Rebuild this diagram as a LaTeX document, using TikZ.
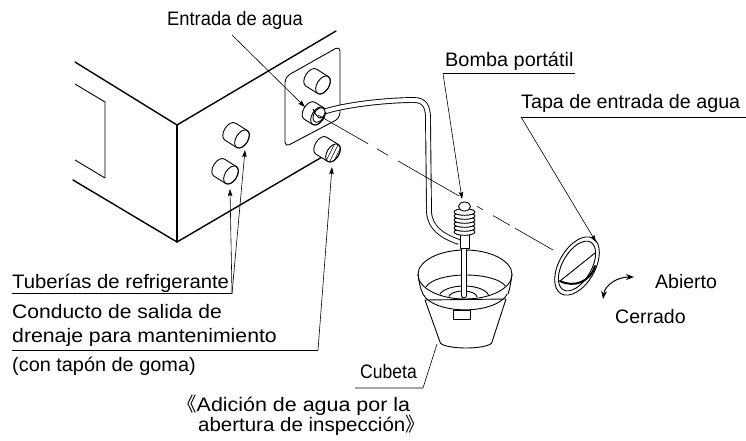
\documentclass[tikz,border=0pt]{standalone}
\usepackage{graphicx}
\usepackage{fontspec}
\setmainfont{Liberation Sans}
\newfontfamily\cjkfont{Noto Sans CJK JP}
\usetikzlibrary{arrows.meta,calc}
% horizontally fitted label text
\newcommand{\wtxt}[2]{\scalebox{#1}[1]{#2}}
\begin{document}
\begin{tikzpicture}[x=1pt,y=-1pt,
  edge/.style={line width=1.4pt, line cap=round, line join=round},
  part/.style={line width=0.9pt, line join=round},
  leader/.style={line width=0.6pt},
  ptr/.style={leader, -{Stealth[length=7pt,width=4.5pt,inset=1pt]}},
  lbl/.style={font=\fontsize{19.5}{23}\selectfont, inner sep=0pt, anchor=base west},
  pics/stub/.style n args={3}{code={
    \path[part, draw, fill=white] (-#1,-#3) -- (0,-#3)
      arc[start angle=-90, end angle=90, x radius=#2, y radius=#3]
      -- (-#1,#3) arc[start angle=90, end angle=270, x radius=#2, y radius=#3] -- cycle;
    \draw[part] (0,0) ellipse[x radius=#2, y radius=#3];
  }},
]
\useasboundingbox (0,0) rectangle (746,440);

% ---------------- unit casing ----------------
\draw[edge] (75,62) -- (177,125) -- (336,31);
\draw[edge] (177,125) -- (177,242);
\draw[edge] (73,180) -- (177,242) -- (322,157);
% panel on the side face
\draw[part] (75,84) -- (105,102) -- (105,178) -- (75,160);
% inspection plate around the inlet
\draw[part, rounded corners=5pt, fill=white] (285,77) -- (340,46) -- (340,118) -- (285,147) -- cycle;

% pipe stubs
\pic[rotate=-32] at (242,139) {stub={14}{6}{10}};
\pic[rotate=-32] at (231,175) {stub={14}{6}{10}};
\pic[rotate=-32] at (323,85) {stub={14}{6}{10}};
\pic[rotate=-32] at (333,153) {stub={14}{6}{10}};
% rubber plug hatching
\begin{scope}
  \clip[rotate around={-32:(333,153)}] (333,153) ellipse[x radius=6, y radius=10];
  \foreach \k in {-9,-5,...,11}
    \draw[line width=0.5pt] (325+\k,165) -- (337+\k,141);
\end{scope}
% water inlet nozzle
\pic[rotate=-32] at (318,116) {stub={10}{6}{10}};

% ---------------- hose ----------------
\draw[line width=0.9pt, double=white, double distance=4pt]
  (320,113) .. controls (345,104) and (390,100) .. (414,100)
  .. controls (424,100) and (428,106) .. (428,118)
  -- (429,212) .. controls (430,228) and (442,236) .. (459,242);
\draw[part, fill=white, rotate around={-32:(319,115)}] (319,115) ellipse[x radius=5, y radius=8];
\draw[part] (313,109) .. controls (318,120) and (322,121) .. (326,112);

% ---------------- bucket ----------------
\coordinate (bk) at (465,274.5);
\draw[part, fill=white] (425,300) -- (440,342) arc[start angle=180, end angle=0, x radius=26, y radius=6] -- (506,299) -- cycle;
\draw[part] (418,274) .. controls (419,282) and (420,288) .. (423,294);
\draw[part] (512,274) .. controls (511,282) and (510,288) .. (508,294);
\draw[part] (423,294) arc[start angle=168, end angle=12, x radius=43, y radius=20];
\draw[part, fill=white] (453,310.5) rectangle (470,319.5);
\draw[part] (bk) ellipse[x radius=47, y radius=24.5];
\begin{scope}
  \clip (bk) ellipse[x radius=46, y radius=23.5];
  \draw[part] (425,290) arc[start angle=180, end angle=360, x radius=41, y radius=15];
  \draw[part] (439,297) arc[start angle=180, end angle=360, x radius=25, y radius=11];
  \draw[part] (449,297) arc[start angle=180, end angle=360, x radius=14, y radius=6];
\end{scope}

% ---------------- pump ----------------
\draw[part, fill=white] (461.5,248) -- (461.5,295.5) arc[start angle=180, end angle=0, radius=2.5] -- (466.5,248);
\draw[part, fill=white] (460,234) rectangle (469,248);
\foreach \yy in {232,228,...,212}
  \draw[part, fill=white] (464.5,\yy) ellipse[x radius=10.5, y radius=3.3];
\draw[part, fill=white] (464.5,206.5) ellipse[x radius=6, y radius=4.5];

% ---------------- centre line towards the cap ----------------
\coordinate (cl1) at (318,115);
\coordinate (cl2) at (553,250);
\draw[leader] (cl1) -- ($(cl1)!0.213!(cl2)$);
\draw[leader] ($(cl1)!0.251!(cl2)$) -- ($(cl1)!0.298!(cl2)$);
\draw[leader] ($(cl1)!0.340!(cl2)$) -- ($(cl1)!0.600!(cl2)$);
\draw[leader] ($(cl1)!0.677!(cl2)$) -- ($(cl1)!0.702!(cl2)$);
\draw[leader] ($(cl1)!0.745!(cl2)$) -- ($(cl1)!0.817!(cl2)$);
\draw[leader] ($(cl1)!0.838!(cl2)$) -- (cl2);

% ---------------- inlet cap ----------------
\draw[part, fill=white, rotate around={-30:(577,266)}] (577,266) ellipse[x radius=18, y radius=32];
\draw[part, rotate around={-30:(577,266)}] (577,266) ellipse[x radius=14.5, y radius=27.5];
\draw[part] (560,281) -- (595,253);
\draw[line width=2pt, line cap=round] (560,281) .. controls (574,288) and (590,282) .. (595,266);

% open / close arrow
\draw[line width=1pt, {Stealth[length=8pt,width=6pt]}-{Stealth[length=8pt,width=6pt]}]
  (603,299) .. controls (605,285) and (617,277) .. (634,277);

% ---------------- labels ----------------
\node[lbl] (entrada) at (167,25) {\wtxt{0.94}{Entrada de agua}};
\node[lbl] (bomba) at (445,66) {\wtxt{1.02}{Bomba portátil}};
\node[lbl] (tapa) at (521,108) {\wtxt{1.01}{Tapa de entrada de agua}};
\node[lbl] (abierto) at (655,288) {Abierto};
\node[lbl] (cerrado) at (615,323) {Cerrado};
\node[lbl] (tuberias) at (12,288) {\wtxt{1.04}{Tuberías de refrigerante}};
\node[lbl] (conducto) at (12,318) {\wtxt{1.08}{Conducto de salida de}};
\node[lbl] (drenaje) at (12,342) {\wtxt{1.09}{drenaje para mantenimiento}};
\node[lbl] (tapon) at (12,371) {\wtxt{1.02}{(con tapón de goma)}};
\node[lbl] (cubeta) at (360,378) {\wtxt{0.9}{Cubeta}};
\node[lbl] (adicion) at (177,411) {{\cjkfont 《}\wtxt{1.1}{Adición de agua por la}};
\node[lbl] (abertura) at (198,431) {\wtxt{1.05}{abertura de inspección}{\cjkfont 》}};

% ---------------- leaders ----------------
\coordinate (jEnt) at (232,35);
\coordinate (tEnt) at (305,107);
\draw[ptr] (jEnt) -- (tEnt);

\coordinate (jBom) at (443,73.5);
\draw[leader] (jBom) -- (575,73.5);
\draw[ptr] (jBom) -- (462,199);

\coordinate (jTap) at (521,117);
\draw[leader] (jTap) -- (746,117);
\draw[ptr] (jTap) -- (596,242);

\coordinate (jTub) at (232,293.5);
\draw[leader] (12,293.5) -- (jTub);
\draw[ptr] (jTub) -- (230,189);
\draw[ptr] (jTub) -- (245,150);

\coordinate (jDre) at (318,350);
\draw[leader] (12,350) -- (jDre);
\draw[ptr] (jDre) -- (332,167);

\coordinate (jCub) at (423,388);
\draw[leader] (355,388) -- (jCub) -- (437,344);
\end{tikzpicture}
\end{document}
